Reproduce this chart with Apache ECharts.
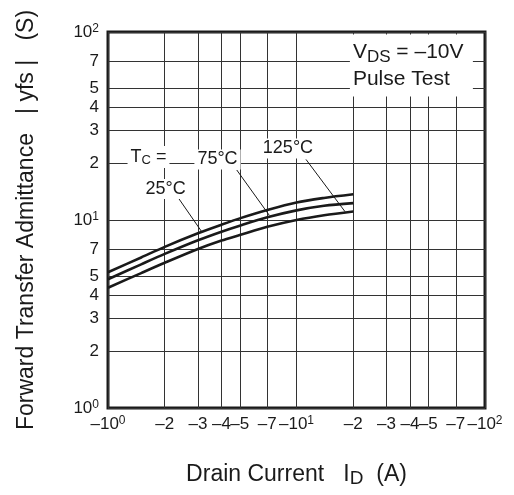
<!DOCTYPE html>
<html><head><meta charset="utf-8">
<script src="https://cdn.jsdelivr.net/npm/echarts@6/dist/echarts.min.js"></script>
<style>html,body{margin:0;padding:0;background:#fff}#c{width:514px;height:495px}</style>
</head><body><div id="c"></div>
<script>
// ---- data ----
const xTicks = [1, 2, 3, 4, 5, 7, 10, 20, 30, 40, 50, 70, 100];
const xTickLabels = ['–10^0', '–2', '–3', '–4', '–5', '–7', '–10^1', '–2', '–3', '–4', '–5', '–7', '–10^2'];
const yTicks = [1, 2, 3, 4, 5, 7, 10, 20, 30, 40, 50, 70, 100];
const yTickLabels = ['10^0', '2', '3', '4', '5', '7', '10^1', '2', '3', '4', '5', '7', '10^2'];
const drainCurrent = [1, 1.5, 2, 3, 4, 5, 7, 10, 14, 20];                 // |ID| (A)
const yfs25 = [5.27, 6.32, 7.2, 8.5, 9.44, 10.2, 11.3, 12.4, 13.1, 13.7];   // Tc = 25°C
const yfs75 = [4.84, 5.81, 6.6, 7.8, 8.67, 9.33, 10.33, 11.25, 11.9, 12.3]; // Tc = 75°C
const yfs125 = [4.36, 5.22, 5.92, 7.01, 7.78, 8.32, 9.2, 10.0, 10.6, 11.1]; // Tc = 125°C

// ---- chart ----
const FONT = '"Liberation Sans", Arial, Helvetica, sans-serif';
const INK = '#1a1a1a';
const lg = Math.log10;
function richLabel(s) {
  const p = s.split('^');
  return p.length > 1 ? '{b|' + p[0] + '}{s|' + p[1] + '}' : '{b|' + s + '}';
}
function pick(ticks, labels) {
  return function (v) {
    let best = 0, d = 1e9;
    ticks.forEach(function (t, i) { const dd = Math.abs(lg(t) - v); if (dd < d) { d = dd; best = i; } });
    return richLabel(labels[best]);
  };
}
const tickRich = {
  b: { fontSize: 17, fontFamily: FONT, color: INK, lineHeight: 19 },
  s: { fontSize: 12, fontFamily: FONT, color: INK, lineHeight: 12, verticalAlign: 'top' }
};
const gridLine = { show: true, lineStyle: { color: '#333', width: 1 } };

function series(data, extra) {
  return Object.assign({
    type: 'line', xAxisIndex: 0, yAxisIndex: 0,
    data: drainCurrent.map(function (x, i) { return [x, data[i]]; }),
    smooth: 0.3, symbol: 'none', silent: true,
    lineStyle: { color: INK, width: 2.6 }, z: 5
  }, extra || {});
}

const annText = { fontFamily: FONT, color: INK, fontSize: 18, backgroundColor: '#fff', padding: [1, 3] };
function ann(coord, text, lab) {
  return { coord: coord, label: Object.assign({ show: true, position: 'inside', formatter: text }, annText, lab || {}) };
}

const option = {
  animation: false,
  backgroundColor: '#fff',
  grid: { left: 108, right: 29, top: 32, bottom: 87, show: true, borderColor: INK, borderWidth: 3, backgroundColor: 'transparent' },
  xAxis: [
    { type: 'log', logBase: 10, min: 1, max: 100, show: false, position: 'bottom' },
    {
      type: 'value', min: 0, max: 2, position: 'bottom',
      axisLine: { show: false },
      axisTick: { show: false, customValues: xTicks.map(lg) },
      axisLabel: { customValues: xTicks.map(lg), formatter: pick(xTicks, xTickLabels), margin: 7, rich: tickRich },
      splitLine: gridLine,
      name: '{n|Drain Current   I}{d|D}{n|  (A)}', nameLocation: 'middle', nameGap: 54,
      nameTextStyle: { rich: {
        n: { fontSize: 23, fontFamily: FONT, color: INK, lineHeight: 26 },
        d: { fontSize: 19, fontFamily: FONT, color: INK, lineHeight: 16, verticalAlign: 'bottom' }
      } }
    }
  ],
  yAxis: [
    { type: 'log', logBase: 10, min: 1, max: 100, show: false, position: 'left' },
    {
      type: 'value', min: 0, max: 2, position: 'left',
      axisLine: { show: false },
      axisTick: { show: false, customValues: yTicks.map(lg) },
      axisLabel: { customValues: yTicks.map(lg), formatter: pick(yTicks, yTickLabels), margin: 9, rich: tickRich },
      splitLine: gridLine,
      name: 'Forward Transfer Admittance   | yfs |   (S)', nameLocation: 'middle', nameGap: 70,
      nameTextStyle: { fontSize: 23, fontFamily: FONT, color: INK }
    }
  ],
  series: [
    series(yfs25, {
      name: '25°C',
      markLine: {
        silent: true, symbol: ['none', 'none'], label: { show: false },
        lineStyle: { color: INK, width: 1, type: 'solid' },
        data: [
          [{ coord: [2.27, 13.87] }, { coord: [3.14, 8.67] }],
          [{ coord: [4.82, 18.45] }, { coord: [7.17, 10.6] }],
          [{ coord: [11.23, 21.0] }, { coord: [18.1, 11.07] }]
        ]
      },
      markPoint: {
        silent: true, symbol: 'circle', symbolSize: 0,
        data: [
          ann([1.64, 21.6], '{t|T}{c|C}{t| =}', { rich: {
            t: { fontSize: 18, fontFamily: FONT, color: INK, lineHeight: 20 },
            c: { fontSize: 13, fontFamily: FONT, color: INK, lineHeight: 15, verticalAlign: 'bottom' }
          } }),
          ann([3.81, 21.0], '75°C'),
          ann([9.01, 24.0], '125°C'),
          ann([2.02, 14.6], '25°C'),
          ann([19.2, 66.4], '{v|V}{d|DS}{v| = –10V}\n{v|Pulse Test}', {
            align: 'left', padding: [4, 3, 4, 3], width: 117,
            rich: {
              v: { fontSize: 21, fontFamily: FONT, color: INK, lineHeight: 27 },
              d: { fontSize: 17, fontFamily: FONT, color: INK, lineHeight: 21, verticalAlign: 'bottom' }
            }
          })
        ]
      }
    }),
    series(yfs75, { name: '75°C' }),
    series(yfs125, { name: '125°C' })
  ]
};
const chart = echarts.init(document.getElementById('c'), null, { renderer: 'canvas' });
chart.setOption(option);
</script>
</body></html>
